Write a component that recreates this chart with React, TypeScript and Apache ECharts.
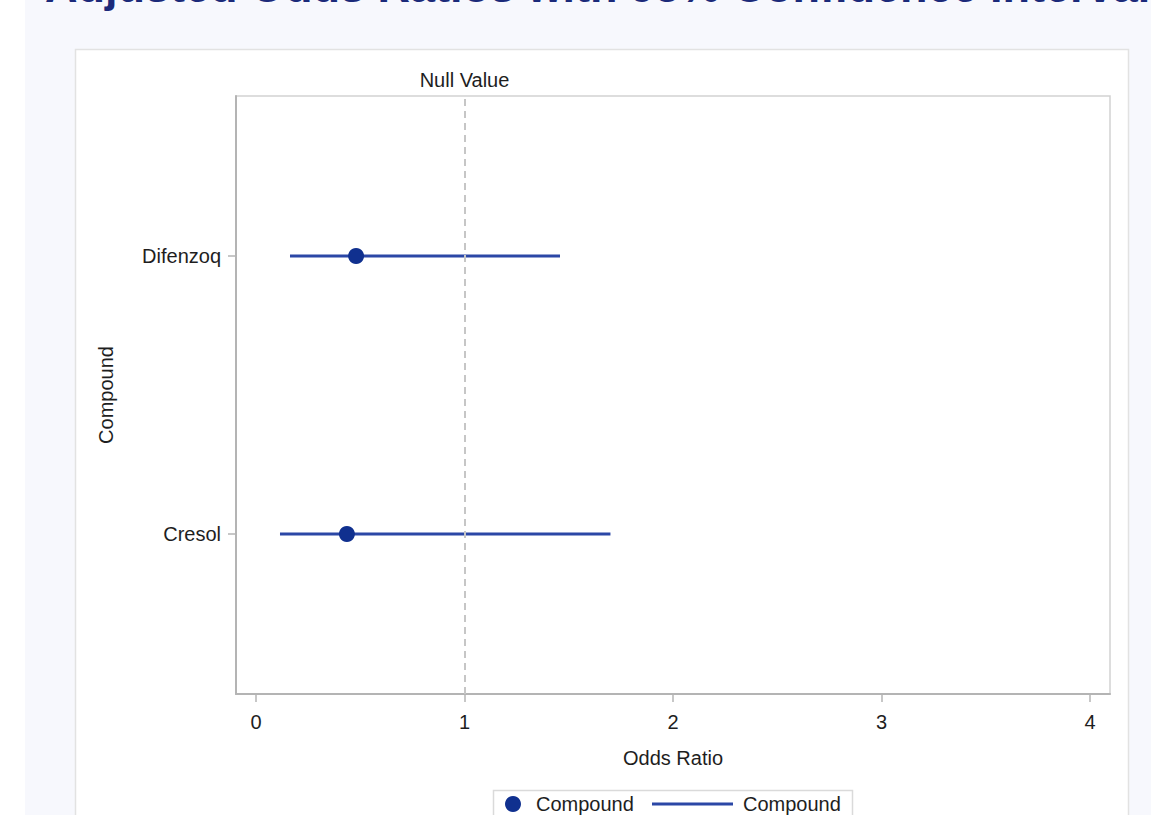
import React, { useEffect, useRef } from "react";
import * as echarts from "echarts";

// ---- data ----
const categories = ["Cresol", "Difenzoq"];
const oddsRatios = [0.436, 0.48];
const lowerCL = [0.115, 0.163];
const upperCL = [1.7, 1.458];
const xTicks = [0, 1, 2, 3, 4];
const nullValue = 1;
const titleText = "Adjusted Odds Ratios with 95% Confidence Intervals";
const legendLabels = ["Compound", "Compound"];

export default function App() {
  const ref = useRef<HTMLDivElement>(null);

  useEffect(() => {
    const chart = echarts.init(ref.current as HTMLDivElement, null, { renderer: "svg" });
    const FONT = "'Liberation Sans', Arial, sans-serif";
    const LINE = "#2b47a6";
    const MARK = "#10308f";
    const TEXT = "#1e1e1e";
    const AXIS = "#b4b4b4";
    const yIdx = categories.map((_, i) => i);

    chart.setOption({
      animation: false,
      backgroundColor: "#ffffff",
      textStyle: { fontFamily: FONT },
      graphic: [
        { type: "rect", z: -20, shape: { x: 25, y: 0, width: 1126, height: 815 }, style: { fill: "#f7f8fd" } },
        {
          type: "rect",
          z: -19,
          shape: { x: 75.5, y: 49.5, width: 1053, height: 800 },
          style: { fill: "#ffffff", stroke: "#e2e2e2", lineWidth: 1.5 },
        },
        {
          type: "text",
          z: -18,
          x: 45,
          y: 9,
          style: {
            text: titleText,
            font: "bold 45px 'Liberation Sans', Arial, sans-serif",
            fill: "#1b2a7a",
            verticalAlign: "bottom",
            align: "left",
          },
        },
        // legend
        {
          type: "rect",
          z: 10,
          shape: { x: 493.5, y: 790.5, width: 359, height: 40 },
          style: { fill: "#ffffff", stroke: "#dadada", lineWidth: 1.5 },
        },
        { type: "circle", z: 11, shape: { cx: 513, cy: 804, r: 8 }, style: { fill: MARK } },
        {
          type: "text",
          z: 11,
          x: 536,
          y: 804,
          style: { text: legendLabels[0], font: "20px " + FONT, fill: TEXT, verticalAlign: "middle", align: "left" },
        },
        { type: "line", z: 11, shape: { x1: 652, y1: 804, x2: 733, y2: 804 }, style: { stroke: LINE, lineWidth: 3 } },
        {
          type: "text",
          z: 11,
          x: 743,
          y: 804,
          style: { text: legendLabels[1], font: "20px " + FONT, fill: TEXT, verticalAlign: "middle", align: "left" },
        },
      ],
      grid: {
        left: 236,
        right: 41,
        top: 96,
        bottom: 121,
        show: true,
        borderColor: "#d2d2d2",
        borderWidth: 1.5,
        backgroundColor: "transparent",
      },
      xAxis: {
        type: "value",
        min: -0.096,
        max: 4.096,
        name: "Odds Ratio",
        nameLocation: "middle",
        nameGap: 54,
        nameTextStyle: { fontSize: 20, color: TEXT, fontFamily: FONT },
        axisLine: { show: true, onZero: false, lineStyle: { color: AXIS, width: 2 } },
        axisTick: { show: true, length: 8, customValues: xTicks, lineStyle: { color: AXIS, width: 1.5 } },
        axisLabel: {
          customValues: xTicks,
          margin: 18,
          fontSize: 20,
          color: TEXT,
          fontFamily: FONT,
          formatter: (v: number) => String(v),
        },
        splitLine: { show: false },
      },
      yAxis: {
        type: "value",
        min: -0.5755,
        max: 1.5755,
        name: "Compound",
        nameLocation: "middle",
        nameGap: 120,
        nameRotate: 90,
        nameTextStyle: { fontSize: 20, color: TEXT, fontFamily: FONT },
        axisLine: { show: true, onZero: false, lineStyle: { color: AXIS, width: 2 } },
        axisTick: { show: true, length: 8, customValues: yIdx, lineStyle: { color: AXIS, width: 1.5 } },
        axisLabel: {
          customValues: yIdx,
          margin: 15,
          fontSize: 20,
          color: TEXT,
          fontFamily: FONT,
          formatter: (v: number) => categories[Math.round(v)] ?? "",
        },
        splitLine: { show: false },
      },
      series: [
        {
          type: "scatter",
          name: "Null",
          data: [],
          z: 1,
          silent: true,
          markLine: {
            silent: true,
            symbol: ["none", "none"],
            lineStyle: { type: [7, 5], color: "#c6c6c6", width: 2 },
            label: {
              show: true,
              position: "end",
              formatter: "Null Value",
              fontSize: 20,
              color: TEXT,
              fontFamily: FONT,
              distance: 6,
            },
            data: [{ xAxis: nullValue }],
          },
        },
        {
          type: "custom",
          name: "Compound CI",
          z: 2,
          data: categories.map((_, i) => [lowerCL[i], upperCL[i], i]),
          encode: { x: [0, 1], y: 2 },
          renderItem: (_params: any, api: any) => {
            const p1 = api.coord([api.value(0), api.value(2)]);
            const p2 = api.coord([api.value(1), api.value(2)]);
            return {
              type: "line",
              shape: { x1: p1[0], y1: p1[1], x2: p2[0], y2: p2[1] },
              style: { stroke: LINE, lineWidth: 3 },
            };
          },
        },
        {
          type: "scatter",
          name: "Compound",
          z: 3,
          symbol: "circle",
          symbolSize: 16,
          itemStyle: { color: MARK, opacity: 1 },
          data: categories.map((_, i) => [oddsRatios[i], i]),
        },
      ],
    });

    return () => chart.dispose();
  }, []);

  return <div ref={ref} style={{ position: "fixed", left: 0, top: 0, width: 1151, height: 815 }} />;
}
